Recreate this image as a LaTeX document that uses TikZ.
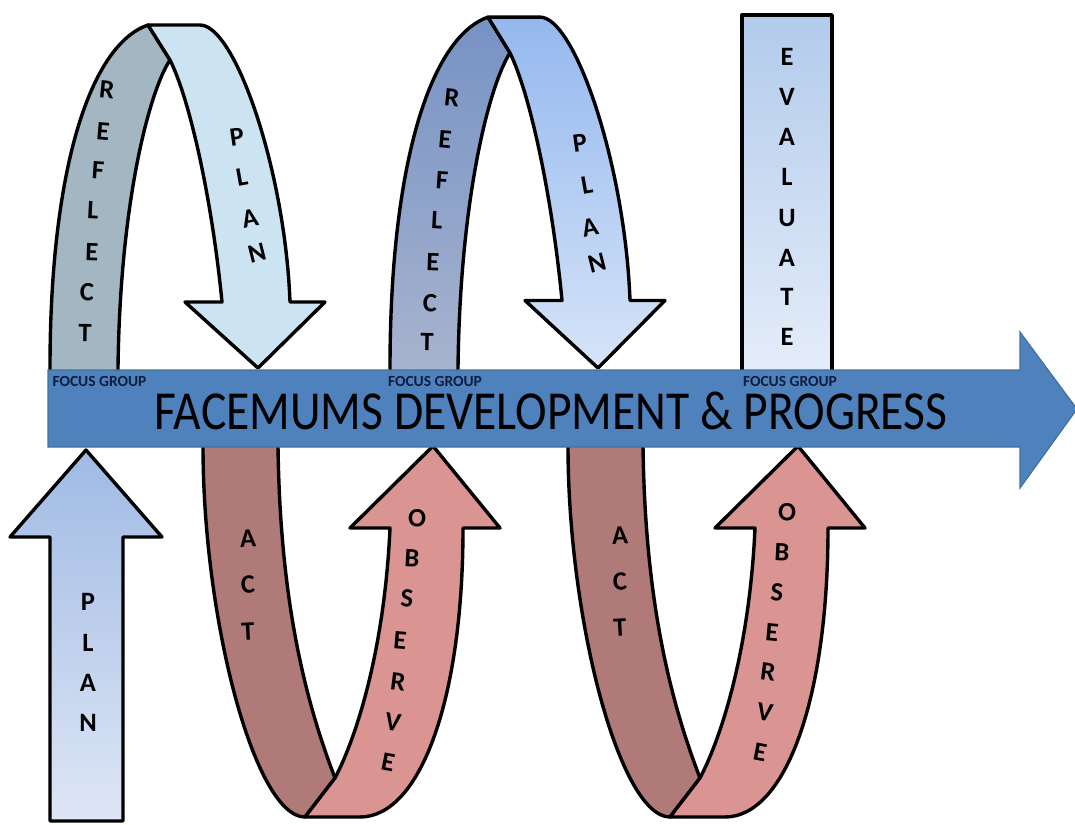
\documentclass[tikz,border=0pt]{standalone}
\usepackage{fontspec}
\setmainfont{Carlito}
\definecolor{mainblue}{RGB}{79,129,189}
\definecolor{mainedge}{RGB}{65,113,160}
\definecolor{focusblue}{RGB}{15,30,62}
\definecolor{reflectA}{RGB}{163,183,194}
\definecolor{planA}{RGB}{204,228,241}
\definecolor{reflectBtop}{RGB}{118,146,196}
\definecolor{reflectBbot}{RGB}{168,180,206}
\definecolor{planBtop}{RGB}{148,184,238}
\definecolor{planBbot}{RGB}{214,228,248}
\definecolor{evaltop}{RGB}{178,203,235}
\definecolor{evalbot}{RGB}{229,237,249}
\definecolor{plantop}{RGB}{160,186,228}
\definecolor{planbot}{RGB}{222,230,245}
\definecolor{actfill}{RGB}{176,122,120}
\definecolor{obsfill}{RGB}{218,149,147}
\begin{document}
\begin{tikzpicture}[x=1pt,y=-1pt,
  band/.style={draw=black, line width=3.4pt, line join=round},
  letter/.style={font=\fontsize{26.5}{26.5}\selectfont\bfseries, inner sep=0pt, text=black},
  focus/.style={font=\fontsize{15.5}{15.5}\selectfont\bfseries, inner sep=0pt, text=focusblue,
    text height=10pt, text depth=0pt},
  title/.style={font=\fontsize{55}{55}\selectfont, inner sep=0pt, text=black,
    text height=35pt, text depth=0pt}]
\useasboundingbox (0,0) rectangle (1075,824);

% ---- upper loop 1: reflect -> plan ----
\path[band, fill=reflectA] (50,376) -- (50,368) .. controls (50,170) and (90,45) .. (148,25)
  -- (170,60) .. controls (150,90) and (120,200) .. (118,368) -- (118,376) -- cycle;
\path[band, fill=planA] (148,25) -- (200,25) .. controls (235,25) and (285,170) .. (290,302)
  -- (325,302) -- (258,368) -- (185,302) -- (222,302)
  .. controls (212,200) and (190,100) .. (170,60) -- cycle;

% ---- upper loop 2: reflect -> plan ----
\begin{scope}[shift={(340,368)}, yscale=1.023, shift={(0,-368)}]
\path[band, top color=reflectBtop, bottom color=reflectBbot] (50,376) -- (50,368)
  .. controls (50,170) and (90,45) .. (148,25)
  -- (170,60) .. controls (150,90) and (120,200) .. (118,368) -- (118,376) -- cycle;
\path[band, top color=planBtop, bottom color=planBbot] (148,25) -- (200,25)
  .. controls (235,25) and (285,170) .. (290,302)
  -- (325,302) -- (258,368) -- (185,302) -- (222,302)
  .. controls (212,200) and (190,100) .. (170,60) -- cycle;
\end{scope}

% ---- evaluate column ----
\path[band, top color=evaltop, bottom color=evalbot] (742,15) rectangle (832,376);

% ---- initial plan arrow ----
\path[band, top color=plantop, bottom color=planbot] (50,821) -- (50,537) -- (10,537)
  -- (86,450) -- (162,537) -- (123,537) -- (123,821) -- cycle;

% ---- lower loops: act -> observe ----
\foreach \dx in {0,365}{
\begin{scope}[shift={(\dx,0)}]
\path[band, fill=actfill] (203,440) -- (203,446) .. controls (203,620) and (255,817) .. (305,817)
  -- (335,778) .. controls (305,700) and (280,600) .. (278,446) -- (278,440) -- cycle;
\path[band, fill=obsfill] (305,817) -- (360,817) .. controls (420,817) and (463,700) .. (463,528)
  -- (500,528) -- (433,446) -- (350,528) -- (390,528)
  .. controls (385,640) and (360,730) .. (335,778) -- cycle;
\end{scope}}

% ---- main progress arrow ----
\path[draw=mainedge, line width=1.2pt, fill=mainblue, line join=miter]
  (48,370) -- (1020,370) -- (1020,332) -- (1077,409) -- (1020,488) -- (1020,447)
  -- (48,447) -- cycle;
\node[title] (title) at (551,412) {\scalebox{0.865}[1]{FACEMUMS DEVELOPMENT \& PROGRESS}};
\node[focus] (fg1) at (99.5,381) {FOCUS GROUP};
\node[focus] (fg2) at (435,381) {FOCUS GROUP};
\node[focus] (fg3) at (790,381.5) {FOCUS GROUP};

% ---- lettering ----
\foreach \c/\x/\y/\r [count=\i] in {R/107/90/-6, E/103/132/-5, F/98/170/-4, L/93/210/-3,
    E/92/252/-2, C/87/292/-2, T/85/333/-1}
  \node[letter, rotate=\r] (refa\i) at (\x,\y) {\c};
\foreach \c/\x/\y/\r [count=\i] in {P/237/137/8, L/242/177/10, A/250/218/12, N/257/253/14}
  \node[letter, rotate=\r] (plana\i) at (\x,\y) {\c};
\foreach \c/\x/\y/\r [count=\i] in {R/452/98/-6, E/445/140/-5, F/442/180/-4, L/437/220/-3,
    E/433/262/-2, C/430/303/-2, T/427/342/-1}
  \node[letter, rotate=\r] (refb\i) at (\x,\y) {\c};
\foreach \c/\x/\y/\r [count=\i] in {P/580/143/8, L/587/185/10, A/590/227/12, N/597/263/14}
  \node[letter, rotate=\r] (planb\i) at (\x,\y) {\c};
\foreach \c/\y [count=\i] in {E/57, V/97, A/137, L/177, U/218, A/258, T/297, E/337}
  \node[letter] (eval\i) at (787,\y) {\c};
\foreach \c/\y [count=\i] in {P/602, L/643, A/683, N/723}
  \node[letter] (plan\i) at (88,\y) {\c};
\foreach \c/\y [count=\i] in {A/538, C/585, T/632}
  \node[letter, rotate=3] (acta\i) at (248,\y) {\c};
\foreach \c/\y [count=\i] in {A/535, C/582, T/628}
  \node[letter, rotate=3] (actb\i) at (620,\y) {\c};
\foreach \c/\x/\y/\r [count=\i] in {O/417/518/-2, B/412/558/-3, S/407/598/-4, E/400/640/-5,
    R/398/682/-7, V/393/722/-9, E/388/762/-11}
  \node[letter, rotate=\r] (obsa\i) at (\x,\y) {\c};
\foreach \c/\x/\y/\r [count=\i] in {O/787/512/-2, B/782/552/-3, S/777/592/-4, E/772/632/-5,
    R/768/672/-7, V/765/712/-9, E/760/752/-11}
  \node[letter, rotate=\r] (obsb\i) at (\x,\y) {\c};
\end{tikzpicture}
\end{document}
